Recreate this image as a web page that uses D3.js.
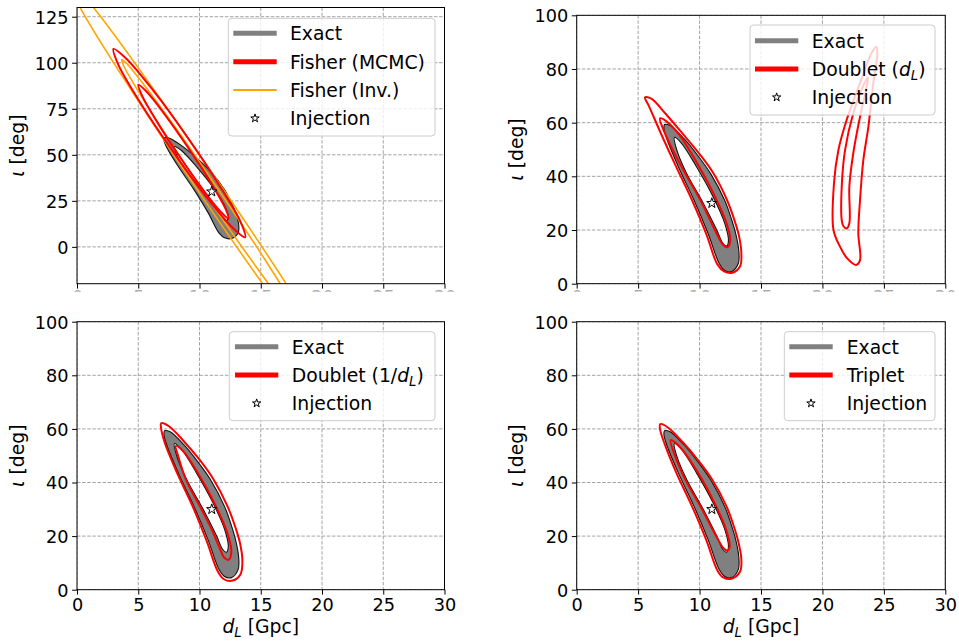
<!DOCTYPE html>
<html>
<head>
<meta charset="utf-8">
<script src="https://cdn.jsdelivr.net/npm/d3@7"></script>
<style>
  body { margin: 0; background: #fff; }
  svg { font-family: "DejaVu Sans", sans-serif; }
</style>
</head>
<body>
<svg id="fig" width="959" height="642"></svg>
<script>
// ---- axis ticks ----
const dLDomain = [0, 30];
const dLTicks = [0, 5, 10, 15, 20, 25, 30];
const iotaDomainFisher = [-20, 130];
const iotaTicksFisher = [0, 25, 50, 75, 100, 125];
const iotaDomain = [0, 100];
const iotaTicks = [0, 20, 40, 60, 80, 100];

// ---- injected source (d_L [Gpc], iota [deg]) ----
const injection = [11, 30];

// ---- exact posterior: 95% (outer) and 68% (inner) contours ----
const exactOuter = [[7.15,59.3],[7.6,58.9],[8.7,54.2],[9.9,47.5],[10.9,41.0],[12.05,31.0],[12.6,24.0],[12.95,18.5],[13.2,12.0],[13.15,7.5],[12.6,4.5],[12.05,4.9],[11.6,7.5],[10.7,18.6],[9.55,31.1],[8.28,43.5],[7.33,54.0],[7.1,57.8]];
const exactInner = [[7.95,54.5],[8.5,52.5],[9.75,43.6],[11.1,32.4],[12.05,22.5],[12.35,16.0],[12.2,14.0],[11.9,15.0],[11.4,20.0],[10.3,30.0],[8.95,41.1],[8.15,49.8]];

// ---- Fisher approximation, sampled with MCMC ----
const fisherMcmc95 = [[13.73,5.2],[13.35,13.6],[11.62,33.5],[9.02,59.5],[6.25,84.7],[4.03,102.2],[2.98,107.5],[3.36,99.1],[5.08,79.2],[7.68,53.2],[10.46,28.0],[12.68,10.5]];
const fisherMcmc68 = [[12.37,15.46],[12.08,21.3],[10.88,35.3],[9.10,53.6],[7.20,71.6],[5.71,84.1],[5.01,88.1],[5.30,82.3],[6.50,68.3],[8.28,50.0],[10.18,32.0],[11.67,19.5]];

// ---- Fisher approximation, inverted matrix ----
const fisherInv95 = [[22.86,-85.7],[21.63,-68.6],[17.56,-25.0],[11.73,33.3],[5.71,90.7],[1.11,131.9],[-0.85,145.7],[0.38,128.5],[4.45,84.9],[10.28,26.6],[16.30,-30.7],[20.89,-71.9]];
const fisherInv68 = [[18.36,-41.8],[17.60,-31.2],[15.07,-4.1],[11.45,32.0],[7.72,67.7],[4.86,93.2],[4.01,99.9],[3.65,101.7],[3.78,98.8],[4.41,91.1],[6.93,64.1],[10.55,27.9],[14.29,-7.7],[17.14,-33.2]];

// ---- Doublet sampled in d_L: main mode and secondary mode ----
const doubletDl95 = [[5.56,69.4],[6.1,68.9],[7.2,63.5],[8.6,56.0],[10.0,48.3],[11.1,41.3],[12.25,31.0],[12.85,23.5],[13.2,18.0],[13.4,11.5],[13.3,6.5],[12.67,4.1],[12.0,4.6],[11.45,7.2],[10.55,18.5],[9.4,31.0],[8.1,43.5],[6.9,55.5],[5.9,66.0]];
const doubletDl68 = [[6.78,61.6],[7.3,60.5],[8.4,55.2],[9.85,44.5],[11.2,33.0],[12.2,22.5],[12.5,16.0],[12.26,13.6],[11.9,14.6],[11.3,19.5],[10.2,30.0],[8.85,41.0],[7.8,50.0],[7.0,58.0]];
const doubletDlMode2_95 = [[24.4,88.3],[24.47,85.8],[24.14,74.7],[23.74,58.5],[23.33,46.1],[23.06,31.2],[22.92,18.8],[23.06,8.8],[22.73,7.0],[22.0,9.5],[21.43,13.8],[20.9,20.0],[20.94,37.4],[21.3,49.8],[21.97,61.0],[23.06,74.7],[24.0,86.0]];
const doubletDlMode2_68 = [[23.7,76.9],[23.6,73.4],[23.06,62.2],[22.51,48.6],[22.19,36.1],[22.19,22.5],[21.97,20.6],[21.7,21.5],[21.57,23.7],[21.57,36.1],[21.84,49.8],[22.51,63.5],[23.3,73.5]];

// ---- Doublet sampled in 1/d_L ----
const doubletInv95 = [[6.87,62.1],[7.5,61.0],[8.7,55.5],[10.0,48.5],[11.1,41.5],[12.3,31.0],[12.95,23.0],[13.3,17.5],[13.5,11.0],[13.35,5.8],[12.7,3.4],[12.0,3.9],[11.5,6.8],[10.6,18.0],[9.45,31.0],[8.15,43.8],[7.15,55.0],[6.85,60.8]];
const doubletInv68 = [[8.07,53.6],[8.7,51.5],[10.0,42.5],[11.3,31.5],[12.25,21.5],[12.6,14.5],[12.4,11.2],[12.05,11.8],[11.6,16.0],[11.05,22.0],[10.05,31.0],[8.95,40.5],[8.25,50.0]];

// ---- Triplet ----
const triplet95 = [[6.8,61.8],[7.4,60.6],[8.6,55.2],[9.9,48.2],[11.0,41.3],[12.2,31.0],[12.8,23.5],[13.15,18.0],[13.4,11.5],[13.3,6.8],[12.6,4.1],[11.95,4.5],[11.45,7.2],[10.55,18.5],[9.4,31.0],[8.12,43.5],[7.15,54.5],[6.78,60.0]];
const triplet68 = [[7.65,55.8],[8.35,53.5],[9.85,43.8],[11.2,32.5],[12.15,22.5],[12.45,16.0],[12.25,14.6],[11.95,15.5],[11.35,20.0],[10.2,30.0],[8.85,41.0],[8.0,50.0]];

// ---- legend labels ----
const labelExact = [{t: "Exact"}];
const labelFisherMcmc = [{t: "Fisher (MCMC)"}];
const labelFisherInv = [{t: "Fisher (Inv.)"}];
const labelInjection = [{t: "Injection"}];
const labelDoubletDl = [{t: "Doublet ("}, {t: "d", it: true}, {t: "L", it: true, sub: true}, {t: ")"}];
const labelDoubletInv = [{t: "Doublet (1/"}, {t: "d", it: true}, {t: "L", it: true, sub: true}, {t: ")"}];
const labelTriplet = [{t: "Triplet"}];

// ---- styles ----
const FS = 18.8;      // legend and axis titles
const FS_TICK = 17.7; // tick labels
const RED = "#ff0000", ORANGE = "#ffa500", GRAY = "#808080";

const panels = [
  { box: [77, 7.5, 444.5, 283.7], yDomain: iotaDomainFisher, yTicks: iotaTicksFisher, showX: false,
    lines: [
      { data: fisherInv95, color: ORANGE, w: 1.6 }, { data: fisherInv68, color: ORANGE, w: 1.6 },
      { data: fisherMcmc95, color: RED, w: 2 }, { data: fisherMcmc68, color: RED, w: 2 }
    ],
    legend: { box: [228.3, 18.3, 435, 136], rows: [33.3, 61.7, 90, 118.3], hx: [233.3, 276.7], tx: 290,
      items: [
        { label: labelExact, kind: "line", color: GRAY, w: 5 },
        { label: labelFisherMcmc, kind: "line", color: RED, w: 5 },
        { label: labelFisherInv, kind: "line", color: ORANGE, w: 2 },
        { label: labelInjection, kind: "star" }
      ] } },
  { box: [576.7, 15.3, 945.3, 283.7], yDomain: iotaDomain, yTicks: iotaTicks, showX: false,
    lines: [
      { data: doubletDl95, color: RED, w: 2 }, { data: doubletDl68, color: RED, w: 2 },
      { data: doubletDlMode2_95, color: RED, w: 2 }, { data: doubletDlMode2_68, color: RED, w: 2 }
    ],
    legend: { box: [750, 25, 935, 115], rows: [40.7, 69, 97.3], hx: [755, 798.3], tx: 811.7,
      items: [
        { label: labelExact, kind: "line", color: GRAY, w: 5 },
        { label: labelDoubletDl, kind: "line", color: RED, w: 5 },
        { label: labelInjection, kind: "star" }
      ] } },
  { box: [77, 321.7, 444.5, 589.7], yDomain: iotaDomain, yTicks: iotaTicks, showX: true,
    lines: [
      { data: doubletInv95, color: RED, w: 2 }, { data: doubletInv68, color: RED, w: 2 }
    ],
    legend: { box: [229.3, 331.7, 435, 420.7], rows: [346.7, 375, 403.3], hx: [235, 278.3], tx: 291.7,
      items: [
        { label: labelExact, kind: "line", color: GRAY, w: 5 },
        { label: labelDoubletInv, kind: "line", color: RED, w: 5 },
        { label: labelInjection, kind: "star" }
      ] } },
  { box: [576.7, 321.7, 945.3, 589.7], yDomain: iotaDomain, yTicks: iotaTicks, showX: true,
    lines: [
      { data: triplet95, color: RED, w: 2 }, { data: triplet68, color: RED, w: 2 }
    ],
    legend: { box: [784.3, 331.7, 935, 420.7], rows: [346.7, 375, 403.3], hx: [789.3, 832.7], tx: 846.7,
      items: [
        { label: labelExact, kind: "line", color: GRAY, w: 5 },
        { label: labelTriplet, kind: "line", color: RED, w: 5 },
        { label: labelInjection, kind: "star" }
      ] } }
];

const svg = d3.select("#fig");
const defs = svg.append("defs");

// writes a label made of plain / italic / subscript pieces into a <text>
function richText(sel, parts) {
  let shift = 0;
  parts.forEach(p => {
    const ts = sel.append("tspan").text(p.t);
    if (p.it) ts.attr("font-style", "italic");
    if (p.sub) {
      ts.attr("font-size", FS * 0.7).attr("dy", 4);
      shift = 4;
    } else if (shift) {
      ts.attr("dy", -shift);
      shift = 0;
    }
  });
}

const starPath = r => d3.symbol(d3.symbolStar, r * r / 0.8908)();

panels.forEach((p, i) => {
  const [x0, y0, x1, y1] = p.box;
  const xs = d3.scaleLinear().domain(dLDomain).range([x0, x1]);
  const ys = d3.scaleLinear().domain(p.yDomain).range([y1, y0]);
  const g = svg.append("g");

  defs.append("clipPath").attr("id", "clip" + i)
    .append("rect").attr("x", x0).attr("y", y0).attr("width", x1 - x0).attr("height", y1 - y0);
  const plot = g.append("g").attr("clip-path", `url(#clip${i})`);

  // grid
  plot.selectAll(".gx").data(dLTicks).join("line")
    .attr("x1", d => xs(d)).attr("x2", d => xs(d)).attr("y1", y0).attr("y2", y1)
    .attr("stroke", "#9a9a9a").attr("stroke-width", 0.9).attr("stroke-dasharray", "3.5,1.6");
  plot.selectAll(".gy").data(p.yTicks).join("line")
    .attr("x1", x0).attr("x2", x1).attr("y1", d => ys(d)).attr("y2", d => ys(d))
    .attr("stroke", "#9a9a9a").attr("stroke-width", 0.9).attr("stroke-dasharray", "3.5,1.6");

  const closed = d3.line().x(d => xs(d[0])).y(d => ys(d[1])).curve(d3.curveCatmullRomClosed.alpha(0.5));

  // exact posterior: filled band between the two levels, outlined in black
  plot.append("path").attr("d", closed(exactOuter) + closed(exactInner))
    .attr("fill", GRAY).attr("fill-rule", "evenodd");
  [exactOuter, exactInner].forEach(c => plot.append("path").attr("d", closed(c))
    .attr("fill", "none").attr("stroke", "#111").attr("stroke-width", 1.1));

  // approximation contours
  p.lines.forEach(l => plot.append("path").attr("d", closed(l.data))
    .attr("fill", "none").attr("stroke", l.color).attr("stroke-width", l.w));

  // injection
  plot.append("path").attr("d", starPath(5.4))
    .attr("transform", `translate(${xs(injection[0])},${ys(injection[1])})`)
    .attr("fill", "#fff").attr("stroke", "#000").attr("stroke-width", 1);

  // frame
  g.append("rect").attr("x", x0).attr("y", y0).attr("width", x1 - x0).attr("height", y1 - y0)
    .attr("fill", "none").attr("stroke", "#000").attr("stroke-width", 1);

  // x axis (the upper row only shows the top sliver of its tick labels)
  const xAxis = g.append("g").attr("transform", `translate(0,${y1})`)
    .call(d3.axisBottom(xs).tickValues(dLTicks).tickSize(4.9).tickPadding(4.3).tickSizeOuter(0));
  // y axis
  const yAxis = g.append("g").attr("transform", `translate(${x0},0)`)
    .call(d3.axisLeft(ys).tickValues(p.yTicks).tickSize(4.9).tickPadding(3.6).tickSizeOuter(0));
  [xAxis, yAxis].forEach(a => {
    a.select(".domain").remove();
    a.selectAll("line").attr("stroke", "#000").attr("stroke-width", 1);
    a.selectAll("text").attr("font-size", FS_TICK).attr("font-family", "DejaVu Sans").attr("fill", "#000");
  });
  if (!p.showX) {
    const cut = xAxis.append("g").attr("clip-path", `url(#xclip${i})`);
    defs.append("clipPath").attr("id", "xclip" + i)
      .append("rect").attr("x", x0 - 30).attr("y", 6.4).attr("width", x1 - x0 + 60).attr("height", 1.7);
    xAxis.selectAll(".tick text").each(function () {
      const tick = this.parentNode;
      const tx = d3.select(tick).attr("transform");
      const moved = cut.append("g").attr("transform", tx);
      moved.node().appendChild(this);
    });
    cut.selectAll("text").attr("fill", "#a8a8a8").attr("y", 6.8);
  }
  yAxis.selectAll("text").attr("dy", "0.36em");

  // axis titles
  if (p.showX) {
    const t = g.append("text").attr("x", (x0 + x1) / 2).attr("y", 633)
      .attr("text-anchor", "middle").attr("font-size", FS);
    richText(t, [{t: "d", it: true}, {t: "L", it: true, sub: true}, {t: " [Gpc]"}]);
  }
  const yl = g.append("text")
    .attr("transform", `translate(${x0 - 53.3},${(y0 + y1) / 2}) rotate(-90)`)
    .attr("text-anchor", "middle").attr("font-size", FS);
  richText(yl, [{t: "ι", it: true}, {t: " [deg]"}]);

  // legend
  const L = p.legend;
  const lg = g.append("g");
  lg.append("rect").attr("x", L.box[0]).attr("y", L.box[1])
    .attr("width", L.box[2] - L.box[0]).attr("height", L.box[3] - L.box[1])
    .attr("rx", 3.5).attr("fill", "#fff").attr("fill-opacity", 0.8)
    .attr("stroke", "#cccccc").attr("stroke-width", 1);
  L.items.forEach((it, k) => {
    const y = L.rows[k];
    if (it.kind === "line") {
      lg.append("line").attr("x1", L.hx[0]).attr("x2", L.hx[1]).attr("y1", y).attr("y2", y)
        .attr("stroke", it.color).attr("stroke-width", it.w);
    } else {
      lg.append("path").attr("d", starPath(4.4))
        .attr("transform", `translate(${(L.hx[0] + L.hx[1]) / 2},${y})`)
        .attr("fill", "#fff").attr("stroke", "#000").attr("stroke-width", 1);
    }
    const t = lg.append("text").attr("x", L.tx).attr("y", y + 6.8).attr("font-size", FS);
    richText(t, it.label);
  });
});
</script>
</body>
</html>
